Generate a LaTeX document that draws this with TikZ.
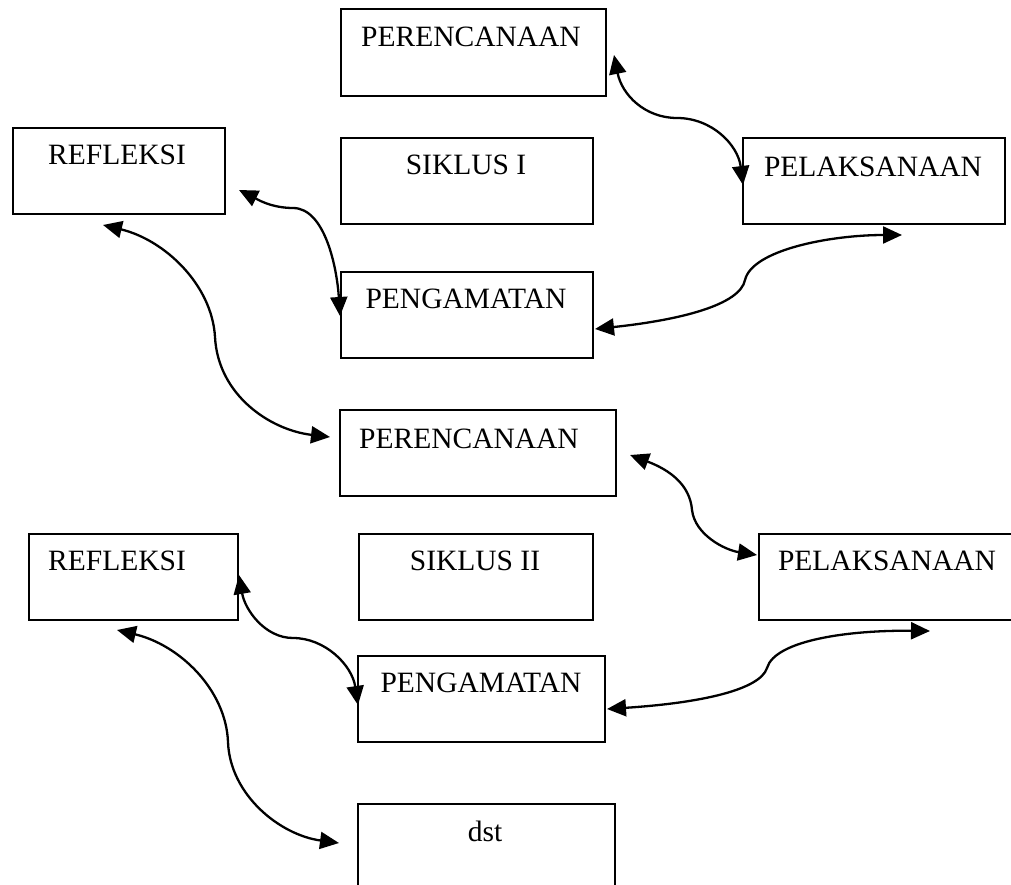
\documentclass[tikz,border=0pt]{standalone}
\usepackage{fontspec}
\setmainfont{Liberation Serif}
\usetikzlibrary{arrows.meta,calc}
\begin{document}
\begin{tikzpicture}[x=1pt,y=-1pt,
  box/.style={draw=black,line width=2pt,rectangle,inner sep=0pt,anchor=north west},
  lbl/.style={anchor=base,inner sep=0pt,font=\fontsize{29.5}{34}\selectfont},
  link/.style={line width=2.3pt,{Triangle[length=19pt,width=17pt]}-{Triangle[length=19pt,width=17pt]}}]
\useasboundingbox (0,0) rectangle (1011,885);
% boxes
\node[box,minimum width=265pt,minimum height=87pt] (per1) at (340,8) {};
\node[box,minimum width=212pt,minimum height=86pt] (ref1) at (12,127) {};
\node[box,minimum width=252pt,minimum height=86pt] (sik1) at (340,137) {};
\node[box,minimum width=262pt,minimum height=86pt] (pel1) at (742,137) {};
\node[box,minimum width=252pt,minimum height=86pt] (pen1) at (340,271) {};
\node[box,minimum width=276pt,minimum height=86pt] (per2) at (339,409) {};
\node[box,minimum width=209pt,minimum height=86pt] (ref2) at (28,533) {};
\node[box,minimum width=234pt,minimum height=86pt] (sik2) at (358,533) {};
\node[box,minimum width=270pt,minimum height=86pt] (pel2) at (758,533) {};
\node[box,minimum width=247pt,minimum height=86pt] (pen2) at (357,655) {};
\node[box,minimum width=257pt,minimum height=100pt] (dst) at (357,803) {};
% texts
\node[lbl] (per1t) at (471,47) {PERENCANAAN};
\node[lbl] (ref1t) at (117,165) {REFLEKSI};
\node[lbl] (sik1t) at (466,175) {SIKLUS I};
\node[lbl] (pel1t) at (873,177) {PELAKSANAAN};
\node[lbl] (pen1t) at (466,308) {PENGAMATAN};
\node[lbl] (per2t) at (469,448) {PERENCANAAN};
\node[lbl] (ref2t) at (117,570) {REFLEKSI};
\node[lbl] (sik2t) at (475,570) {SIKLUS II};
\node[lbl] (pel2t) at (887,570) {PELAKSANAAN};
\node[lbl] (pen2t) at (481,692) {PENGAMATAN};
\node[lbl] (dstt) at (485,841) {dst};
% connector ends
\coordinate (a1) at ($(per1.north east)+(7,47)$);
\coordinate (a2) at ($(pel1.north west)+(1,48)$);
\coordinate (b1) at ($(ref1.south east)+(13,-25)$);
\coordinate (b2) at ($(pen1.north west)+(0,45)$);
\coordinate (c1) at ($(ref1.south west)+(91,10)$);
\coordinate (c2) at ($(per2.north west)+(-9,28)$);
\coordinate (d1) at ($(pen1.south east)+(1,-30)$);
\coordinate (d2) at ($(pel1.south east)+(-104,10)$);
\coordinate (e1) at ($(per2.north east)+(13,46)$);
\coordinate (e2) at ($(pel2.north west)+(-1,22)$);
\coordinate (f1) at ($(ref2.north east)+(0,42)$);
\coordinate (f2) at ($(pen2.north west)+(1,50)$);
\coordinate (g1) at ($(ref2.south west)+(89,9)$);
\coordinate (g2) at ($(dst.north west)+(-18,40)$);
\coordinate (h1) at ($(pen2.south east)+(1,-34)$);
\coordinate (h2) at ($(pel2.south west)+(172,10)$);
% connectors
\draw[link] (a1) .. controls (622,95) and (645,118) .. (677,118) .. controls (712,118) and (738,145) .. (a2);
\draw[link] (b1) .. controls (255,198) and (270,208) .. (293,208) .. controls (325,208) and (337,268) .. (b2);
\draw[link] (c1) .. controls (165,240) and (212,285) .. (215,337) .. controls (218,395) and (270,430) .. (c2);
\draw[link] (d1) .. controls (680,320) and (740,305) .. (745,280) .. controls (752,250) and (830,235) .. (d2);
\draw[link] (e1) .. controls (670,470) and (690,485) .. (692,510) .. controls (695,535) and (725,550) .. (e2);
\draw[link] (f1) .. controls (245,610) and (265,638) .. (293,638) .. controls (325,638) and (352,665) .. (f2);
\draw[link] (g1) .. controls (180,645) and (226,690) .. (228,742) .. controls (230,795) and (280,835) .. (g2);
\draw[link] (h1) .. controls (700,703) and (760,690) .. (767,668) .. controls (775,640) and (850,630) .. (h2);
\end{tikzpicture}
\end{document}
